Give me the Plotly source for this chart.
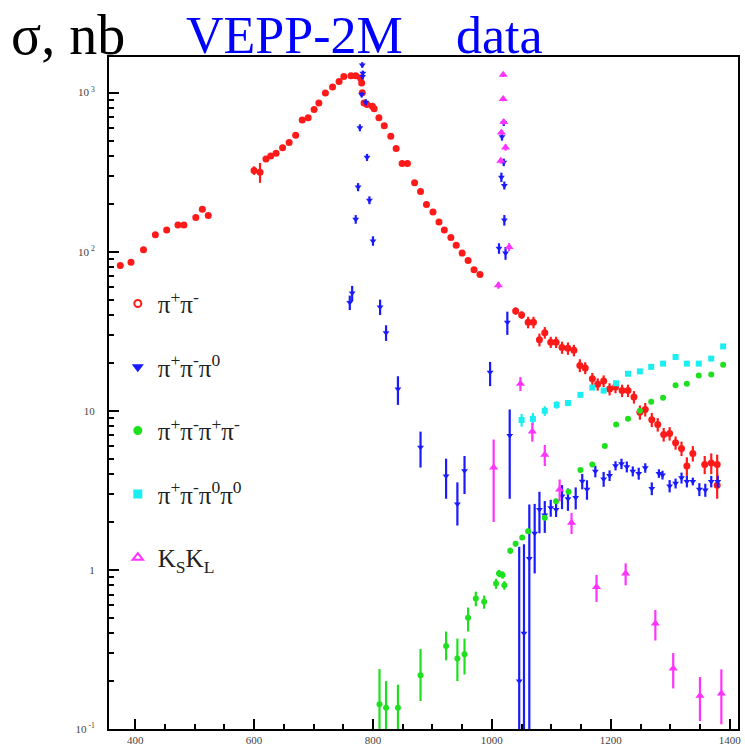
import plotly.graph_objects as go

# ---- e+e- -> pi+ pi- ----
pipi_x = [375, 393, 414, 434, 453, 472, 482, 502, 513, 523,
          600, 610, 620, 628, 637, 648, 659, 670, 681, 691,
          701, 709, 720, 732, 743, 751, 763, 771, 779, 781,
          782, 785, 790, 799, 802, 810, 819, 830, 839, 849,
          858, 870, 880, 890, 901, 911, 920, 931, 940, 950,
          960, 970, 980,
          1040, 1050, 1061, 1070, 1080, 1089, 1099, 1108, 1118, 1128,
          1138, 1148, 1157, 1169, 1178, 1188, 1198, 1208, 1219, 1229,
          1239, 1249, 1258, 1269, 1279, 1289, 1299, 1309, 1319, 1328,
          1338, 1358, 1369, 1379, 1379]
pipi_y = [82, 86, 103, 128, 137, 147, 147, 164, 185, 169,
          324, 316, 383, 400, 416, 451, 486, 540, 673, 696,
          784, 862, 996, 1085, 1176, 1264, 1276, 1276, 1235, 1150,
          1000, 862, 842, 822, 791, 696, 620, 532, 446, 358,
          358, 271, 239, 198, 178, 154, 137, 123, 110, 98,
          88, 77, 72,
          42.4, 40, 36, 36, 28, 31, 27, 27, 25, 24.7,
          24, 19.3, 18.6, 15.9, 14.7, 15.4, 13.7, 14.1, 13.4, 13.4,
          12.2, 9.8, 10.2, 8.8, 8.2, 7.1, 7.2, 6.3, 5.8, 4.5,
          5.4, 4.6, 4.7, 4.6, 3.4]
pipi_err = [2, 2, 3, 3, 3, 3, 3, 4, 5, 4,
            20, 45, 10, 10, 10, 10, 10, 12, 15, 15,
            15, 18, 20, 20, 25, 25, 25, 25, 25, 25,
            20, 20, 18, 18, 16, 15, 14, 12, 10, 9,
            9, 7, 6, 5, 5, 4, 4, 3, 3, 3,
            2, 2, 2,
            2.2, 2.2, 3.0, 3.0, 2.6, 2.6, 2.2, 2.2, 2.2, 2.2,
            2.0, 1.8, 1.6, 1.4, 1.3, 1.3, 1.2, 1.2, 1.2, 1.2,
            1.1, 1.0, 1.0, 0.9, 0.8, 0.7, 0.7, 0.6, 0.6, 0.6,
            0.6, 0.6, 0.7, 0.7, 0.6]

# ---- e+e- -> pi+ pi- pi0 ----
pi3_x = [761, 765, 771, 775, 778, 781, 782, 783, 782.5, 788,
         790, 794, 800, 812, 822, 842, 880, 923, 942, 954,
         997, 1012, 1016, 1017, 1020, 1020, 1021, 1021, 1023, 1026,
         1030, 1046, 1054, 1063, 1072, 1080, 1089, 1099, 1108, 1118,
         1128, 1141, 1152, 1160, 1174, 1188, 1198, 1208, 1218, 1227,
         1237, 1247, 1258, 1269, 1281, 1287, 1299, 1309, 1319, 1328,
         1338, 1349, 1359, 1369, 1380]
pi3_y = [48, 55, 160, 255, 602, 972, 1494, 1326, 1264, 870,
         392, 211, 117, 45, 31, 13.7, 5.9, 3.9, 2.6, 4.2,
         17.5, 105, 294, 529, 647, 365, 261, 158, 98, 36,
         7.0, 0.20, 0.40, 1.18, 1.7, 2.4, 2.21, 2.46, 2.40, 2.91,
         2.80, 2.85, 3.61, 3.21, 4.17, 3.73, 3.92, 4.52, 4.65, 4.45,
         4.17, 4.04, 4.38, 3.25, 4.04, 3.95, 3.37, 3.5, 3.79, 3.6,
         3.6, 3.21, 3.18, 3.6, 3.6]
pi3_err_up = [5, 6, 10, 15, 30, 40, 60, 50, 50, 40,
              20, 12, 8, 5, 3.5, 2.8, 1.5, 1.1, 0.95, 1.0,
              2.8, 8, 20, 30, 30, 20, 15, 12, 9, 6,
              3.2, 1.2, 1.05, 1.4, 0.9, 0.7, 0.5, 0.3, 0.25, 0.5,
              0.45, 0.45, 0.4, 0.45, 0.35, 0.4, 0.3, 0.3, 0.35, 0.35,
              0.3, 0.35, 0.3, 0.3, 0.25, 0.25, 0.3, 0.25, 0.3, 0.3,
              0.2, 0.3, 0.3, 0.3, 0.3]
pi3_err_dn = [5, 6, 10, 15, 30, 40, 60, 50, 50, 40,
              20, 12, 8, 5, 3.5, 2.8, 1.5, 1.1, 0.7, 1.2,
              3.2, 8, 20, 30, 30, 20, 15, 12, 9, 6,
              4.2, 0.199, 0.399, 1.179, 0.75, 0.7, 0.5, 0.3, 0.25, 0.5,
              0.45, 0.45, 0.4, 0.45, 0.35, 0.4, 0.3, 0.3, 0.35, 0.35,
              0.3, 0.35, 0.3, 0.3, 0.25, 0.25, 0.3, 0.25, 0.3, 0.3,
              0.2, 0.3, 0.3, 0.3, 0.3]

# ---- e+e- -> pi+ pi- pi+ pi- ----
pi4c_x = [811, 822, 842, 880, 923, 942, 954, 960, 973, 987,
          1007, 1012, 1018, 1021, 1031, 1040, 1051, 1061, 1089, 1108,
          1129, 1149, 1169, 1190, 1209, 1229, 1249, 1268, 1288, 1309,
          1328, 1348, 1369, 1389]
pi4c_y = [0.143, 0.136, 0.136, 0.218, 0.333, 0.277, 0.295, 0.50, 0.66, 0.63,
          0.82, 0.95, 0.93, 0.80, 1.32, 1.46, 1.60, 1.75, 2.13, 2.7,
          3.1, 4.25, 4.6, 6.0, 8.2, 8.9, 10.0, 11.4, 12.1, 14.5,
          14.8, 16.7, 16.9, 19.5]
pi4c_err_up = [0.095, 0.064, 0.054, 0.10, 0.077, 0.093, 0.075, 0.08, 0.07, 0.06,
               0.06, 0.05, 0.05, 0.05, 0.06, 0.06, 0.06, 0.06, 0.08, 0.1,
               0.1, 0.12, 0.12, 0.15, 0.2, 0.2, 0.2, 0.25, 0.25, 0.3,
               0.3, 0.3, 0.3, 0.35]
pi4c_err_dn = [0.05, 0.046, 0.046, 0.068, 0.063, 0.077, 0.075, 0.09, 0.07, 0.06,
               0.06, 0.05, 0.05, 0.05, 0.06, 0.06, 0.06, 0.06, 0.08, 0.1,
               0.1, 0.12, 0.12, 0.15, 0.2, 0.2, 0.2, 0.25, 0.25, 0.3,
               0.3, 0.3, 0.3, 0.35]

# ---- e+e- -> pi+ pi- pi0 pi0 ----
pi4n_x = [1050, 1069, 1089, 1109, 1128, 1149, 1169, 1188, 1209, 1229,
          1249, 1268, 1288, 1309, 1328, 1348, 1369, 1389]
pi4n_y = [8.75, 8.9, 10.0, 10.9, 11.2, 12.6, 14.0, 13.4, 14.9, 17.1,
          17.7, 18.9, 19.8, 21.8, 19.8, 19.8, 21.3, 25.4]
pi4n_err = [0.8, 0.8, 0.7, 0.6, 0.5, 0.5, 0.5, 0.5, 0.4, 0.4,
            0.4, 0.4, 0.4, 0.4, 0.4, 0.4, 0.4, 0.5]

# ---- e+e- -> KS KL ----
kskl_x = [1003, 1011, 1015, 1016, 1019, 1019, 1020, 1023, 1029, 1048,
          1068, 1089, 1114, 1134, 1176, 1225, 1275, 1305, 1350, 1386]
kskl_y = [4.4, 61.5, 373, 561, 1295, 913, 653, 452, 107, 14.8,
          7.4, 5.3, 3.2, 1.98, 0.78, 0.95, 0.46, 0.24, 0.162, 0.167]
kskl_err_up = [2.2, 3, 15, 20, 40, 30, 25, 20, 6, 1.5,
               1.0, 0.8, 0.5, 0.3, 0.15, 0.15, 0.1, 0.06, 0.05, 0.07]
kskl_err_dn = [2.4, 3, 15, 20, 40, 30, 25, 20, 6, 1.5,
               1.0, 0.8, 0.5, 0.3, 0.15, 0.15, 0.1, 0.06, 0.05, 0.06]

# axis ticks
x_ticks = [400, 600, 800, 1000, 1200, 1400]
y_ticks = [0.1, 1, 10, 100, 1000]
y_tick_text = ["10<sup> -1</sup>", "1", "10", "10<sup> 2</sup>", "10<sup> 3</sup>"]

RED, BLUE, GREEN, CYAN, MAGENTA = "#ff1a1a", "#1a1aff", "#1ee01e", "#1aeef0", "#ff33ff"
SERIF = "Liberation Serif, Times New Roman, serif"

fig = go.Figure()


def add_series(x, y, up, dn, color, symbol, size):
    fig.add_trace(go.Scatter(
        x=x, y=y, mode="markers", showlegend=False,
        marker=dict(color=color, symbol=symbol, size=size, line=dict(width=0)),
        error_y=dict(type="data", array=up, arrayminus=dn, color=color,
                     thickness=2.2, width=0),
    ))


add_series(pipi_x, pipi_y, pipi_err, pipi_err, RED, "circle", 7)
add_series(pi3_x, pi3_y, pi3_err_up, pi3_err_dn, BLUE, "triangle-down", 6)
add_series(pi4c_x, pi4c_y, pi4c_err_up, pi4c_err_dn, GREEN, "circle", 6)
add_series(pi4n_x, pi4n_y, pi4n_err, pi4n_err, CYAN, "square", 6)
add_series(kskl_x, kskl_y, kskl_err_up, kskl_err_dn, MAGENTA, "triangle-up", 8)

# legend entries
legend_items = [
    ("π<sup>+</sup>π<sup>-</sup>", RED, "circle-open", 7),
    ("π<sup>+</sup>π<sup>-</sup>π<sup>0</sup>", BLUE, "triangle-down", 7),
    ("π<sup>+</sup>π<sup>-</sup>π<sup>+</sup>π<sup>-</sup>", GREEN, "circle", 7),
    ("π<sup>+</sup>π<sup>-</sup>π<sup>0</sup>π<sup>0</sup>", CYAN, "square", 7),
    ("K<sub>S</sub>K<sub>L</sub>", MAGENTA, "triangle-up-open", 9),
]
for i, (label, color, symbol, size) in enumerate(legend_items):
    fig.add_trace(go.Scatter(
        x=[None], y=[None], mode="markers", name=label, legendgroup=f"g{i}",
        marker=dict(color=color, symbol=symbol, size=size, line=dict(color=color, width=2)),
    ))

minor_y = [m * 10 ** e for e in range(-1, 4) for m in range(2, 10)]

fig.update_layout(
    width=745, height=750,
    margin=dict(l=109, r=4, t=57, b=15),
    paper_bgcolor="white", plot_bgcolor="white",
    font=dict(family=SERIF, color="#333333", size=11),
    showlegend=True,
    legend=dict(
        x=0.014, y=0.667, xanchor="left", yanchor="top",
        bgcolor="rgba(0,0,0,0)", borderwidth=0,
        font=dict(family=SERIF, size=25, color="#222222"),
        tracegroupgap=28, itemsizing="trace",
    ),
    xaxis=dict(
        range=[356, 1414], tickvals=x_ticks, ticks="inside", ticklen=10, tickwidth=2,
        tickcolor="black", showline=True, mirror=True, linewidth=2, linecolor="black",
        showgrid=False, zeroline=False,
        tickfont=dict(family=SERIF, size=11, color="#444444"),
        minor=dict(dtick=50, tick0=400, ticks="inside", ticklen=5, tickwidth=1.5,
                   tickcolor="black", showgrid=False),
    ),
    yaxis=dict(
        type="log", range=[-1, 3.224], tickvals=y_ticks, ticktext=y_tick_text,
        ticks="inside", ticklen=10, tickwidth=2, tickcolor="black",
        showline=True, mirror=True, linewidth=2, linecolor="black",
        showgrid=False, zeroline=False, ticklabelstandoff=10,
        tickfont=dict(family=SERIF, size=11, color="#444444"),
        minor=dict(tickvals=minor_y, ticks="inside", ticklen=5, tickwidth=1.5,
                   tickcolor="black", showgrid=False),
    ),
    annotations=[
        dict(text="σ, nb", xref="paper", yref="paper", x=-0.159, y=1.032,
             xanchor="left", yanchor="middle", showarrow=False,
             font=dict(family=SERIF, size=56, color="black")),
        dict(text="VEPP-2M", xref="paper", yref="paper", x=(184 - 109) / 632, y=1.032,
             xanchor="left", yanchor="middle", showarrow=False,
             font=dict(family=SERIF, size=52, color="#0000ff")),
        dict(text="data", xref="paper", yref="paper", x=(456 - 109) / 632, y=1.032,
             xanchor="left", yanchor="middle", showarrow=False,
             font=dict(family=SERIF, size=52, color="#0000ff")),
    ],
)

fig.write_html("out.html")
